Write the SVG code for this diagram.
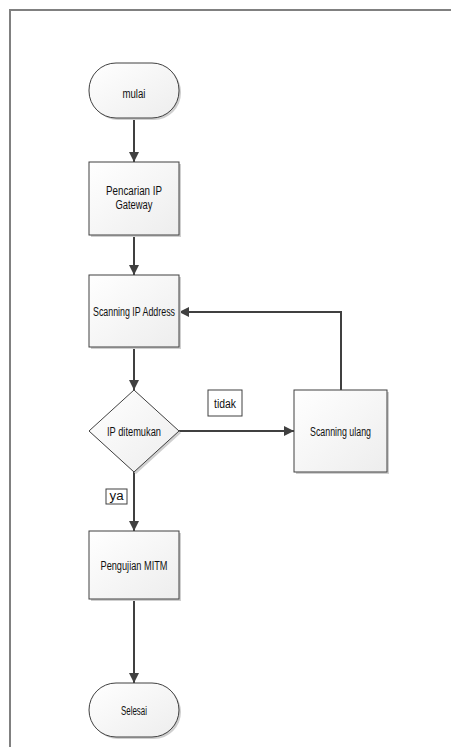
<svg xmlns="http://www.w3.org/2000/svg" width="451" height="747" viewBox="0 0 451 747">
<defs>
<linearGradient id="g" x1="0" y1="0" x2="1" y2="1">
<stop offset="0" stop-color="#ffffff"/>
<stop offset="1" stop-color="#ededed"/>
</linearGradient>
<marker id="ah" viewBox="0 0 10 10" refX="10" refY="5" markerWidth="10" markerHeight="10" markerUnits="userSpaceOnUse" orient="auto">
<path d="M0,0 L10,5 L0,10 z" fill="#404040"/>
</marker>
</defs>
<style>
.shape{fill:url(#g);stroke:#404040;stroke-width:1}
.shadow{fill:#cfcfcf;stroke:none}
.lbl{fill:#ffffff;stroke:#404040;stroke-width:1}
.t{font-family:"Liberation Sans",Arial,sans-serif;font-size:12.5px;fill:#111111;text-anchor:middle}
.c{fill:none;stroke:#404040;stroke-width:2;marker-end:url(#ah)}
</style>
<rect width="451" height="747" fill="#ffffff"/>
<path d="M10,747 V10 H451" fill="none" stroke="#808080" stroke-width="2"/>
<g id="connectors">
<path class="c" d="M134,118 V162"/>
<path class="c" d="M134,235 V275"/>
<path class="c" d="M134,347 V390"/>
<path class="c" d="M179,431 H294"/>
<path class="c" d="M341,390 V312 H179"/>
<path class="c" d="M134,472 V531"/>
<path class="c" d="M134,599 V683"/>
</g>
<g id="mulai">
<rect class="shadow" x="91" y="65" width="90" height="55" rx="27" ry="27"/>
<rect class="shape" x="89" y="63" width="90" height="55" rx="27" ry="27"/>
<text class="t" x="134" y="98" textLength="23" lengthAdjust="spacingAndGlyphs">mulai</text>
</g>
<g id="pencarian">
<rect class="shadow" x="91" y="164" width="90" height="73"/>
<rect class="shape" x="89" y="162" width="90" height="73"/>
<text class="t" x="134" y="195" textLength="56" lengthAdjust="spacingAndGlyphs">Pencarian IP</text>
<text class="t" x="134" y="209" textLength="37" lengthAdjust="spacingAndGlyphs">Gateway</text>
</g>
<g id="scanning">
<rect class="shadow" x="91" y="277" width="90" height="72"/>
<rect class="shape" x="89" y="275" width="90" height="72"/>
<text class="t" x="134" y="316" textLength="82" lengthAdjust="spacingAndGlyphs">Scanning IP Address</text>
</g>
<g id="decision">
<path class="shadow" d="M136,392 L181,433 L136,474 L91,433 z"/>
<path class="shape" d="M134,390 L179,431 L134,472 L89,431 z"/>
<text class="t" x="134" y="436" textLength="54" lengthAdjust="spacingAndGlyphs">IP ditemukan</text>
</g>
<g id="scanning-ulang">
<rect class="shadow" x="296" y="392" width="93" height="82"/>
<rect class="shape" x="294" y="390" width="93" height="82"/>
<text class="t" x="340.5" y="436" textLength="61" lengthAdjust="spacingAndGlyphs">Scanning ulang</text>
</g>
<g id="label-tidak">
<rect class="lbl" x="208" y="390" width="34" height="26"/>
<text class="t" x="225" y="408" textLength="22" lengthAdjust="spacingAndGlyphs">tidak</text>
</g>
<g id="label-ya">
<rect class="lbl" x="106" y="489" width="21" height="15"/>
<text class="t" x="116.5" y="500" textLength="14" lengthAdjust="spacingAndGlyphs">ya</text>
</g>
<g id="pengujian">
<rect class="shadow" x="91" y="533" width="90" height="68"/>
<rect class="shape" x="89" y="531" width="90" height="68"/>
<text class="t" x="134" y="570" textLength="67" lengthAdjust="spacingAndGlyphs">Pengujian MITM</text>
</g>
<g id="selesai">
<rect class="shadow" x="91" y="685" width="90" height="54" rx="27" ry="27"/>
<rect class="shape" x="89" y="683" width="90" height="54" rx="27" ry="27"/>
<text class="t" x="134" y="715" textLength="26" lengthAdjust="spacingAndGlyphs">Selesai</text>
</g>
</svg>
